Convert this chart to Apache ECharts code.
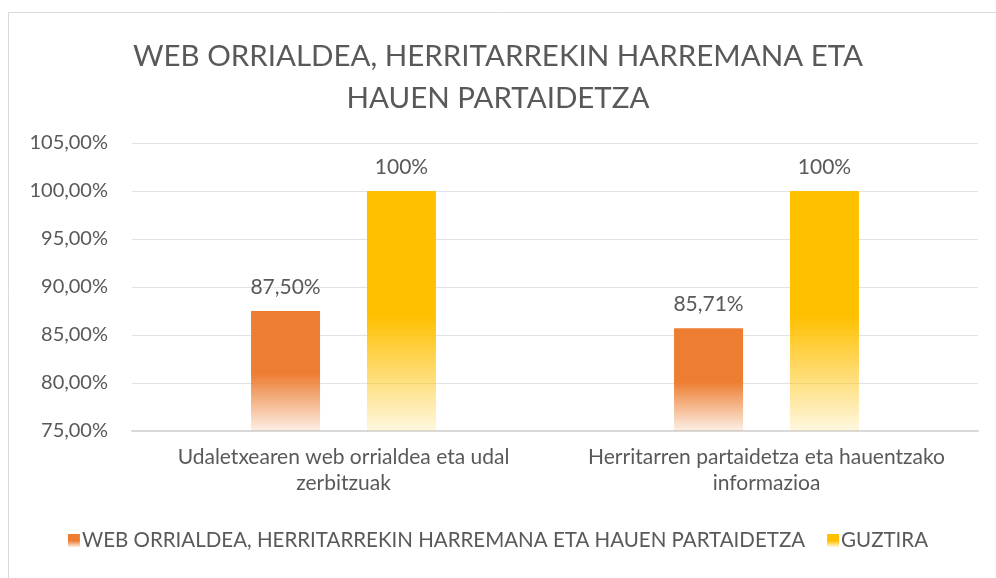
<!DOCTYPE html>
<html>
<head>
<meta charset="utf-8">
<script src="https://cdn.jsdelivr.net/npm/echarts@6/dist/echarts.min.js"></script>
<style>
html, body { margin: 0; padding: 0; background: #fff; }
#chart { width: 996px; height: 578px; }
</style>
</head>
<body>
<div id="chart"></div>
<script>
var titleText = 'WEB ORRIALDEA, HERRITARREKIN HARREMANA ETA\nHAUEN PARTAIDETZA';
var categories = ['Udaletxearen web orrialdea eta udal\nzerbitzuak', 'Herritarren partaidetza eta hauentzako\ninformazioa'];
var seriesNames = ['WEB ORRIALDEA, HERRITARREKIN HARREMANA ETA HAUEN PARTAIDETZA', 'GUZTIRA'];
var webValues = [87.5, 85.71];
var totalValues = [100, 100];
var yMin = 75, yMax = 105, yStep = 5;

var font = 'Lato';
var textColor = '#595959';

function fade(c) {
    // solid on top half, fading out towards the base
    return new echarts.graphic.LinearGradient(0, 0, 0, 1, [
        { offset: 0, color: c },
        { offset: 0.52, color: c },
        { offset: 1, color: echarts.color.modifyAlpha(c, 0.12) }
    ]);
}

function pct(v) {
    if (v === 100) return '100%';
    return v.toFixed(2).replace('.', ',') + '%';
}

var myChart = echarts.init(document.getElementById('chart'));
var option = {
    backgroundColor: '#fff',
    textStyle: { fontFamily: font, color: textColor },
    graphic: [{
        type: 'rect',
        shape: { x: 8.5, y: 12.5, width: 990, height: 580 },
        style: { fill: 'none', stroke: '#d9d9d9', lineWidth: 1 },
        silent: true
    }],
    title: {
        text: titleText,
        left: 'center',
        top: 30,
        textStyle: { fontFamily: font, fontSize: 29.5, fontWeight: 'normal', color: textColor, lineHeight: 42 }
    },
    grid: { left: 132, right: 18, top: 143, bottom: 147 },
    legend: {
        bottom: 22,
        left: 'center',
        itemWidth: 12,
        itemHeight: 13,
        itemGap: 22,
        icon: 'rect',
        textStyle: { fontFamily: font, fontSize: 20.5, color: textColor, padding: [0, 0, 0, -3] },
        data: seriesNames
    },
    xAxis: {
        type: 'category',
        data: categories,
        axisLine: { lineStyle: { color: '#d9d9d9', width: 2 } },
        axisTick: { show: false },
        axisLabel: { interval: 0, fontFamily: font, fontSize: 21, color: textColor, margin: 13, lineHeight: 26 }
    },
    yAxis: {
        type: 'value',
        min: yMin,
        max: yMax,
        interval: yStep,
        axisLine: { show: false },
        axisTick: { show: false },
        splitLine: { lineStyle: { color: '#e3e3e3', width: 1 } },
        axisLabel: {
            fontFamily: font, fontSize: 20, color: textColor, margin: 24,
            formatter: function (v) { return v.toFixed(2).replace('.', ',') + '%'; }
        }
    },
    series: [
        {
            name: seriesNames[0],
            type: 'bar',
            data: webValues,
            barWidth: 69,
            barGap: '68%',
            itemStyle: { color: fade('#ED7D31') },
            label: {
                show: true, position: 'top', distance: 13,
                fontFamily: font, fontSize: 21, color: textColor,
                formatter: function (p) { return pct(p.value); }
            }
        },
        {
            name: seriesNames[1],
            type: 'bar',
            data: totalValues,
            barWidth: 69,
            itemStyle: { color: fade('#FFC000') },
            label: {
                show: true, position: 'top', distance: 13,
                fontFamily: font, fontSize: 21, color: textColor,
                formatter: function (p) { return pct(p.value); }
            }
        }
    ]
};
myChart.setOption(option);
</script>
</body>
</html>
